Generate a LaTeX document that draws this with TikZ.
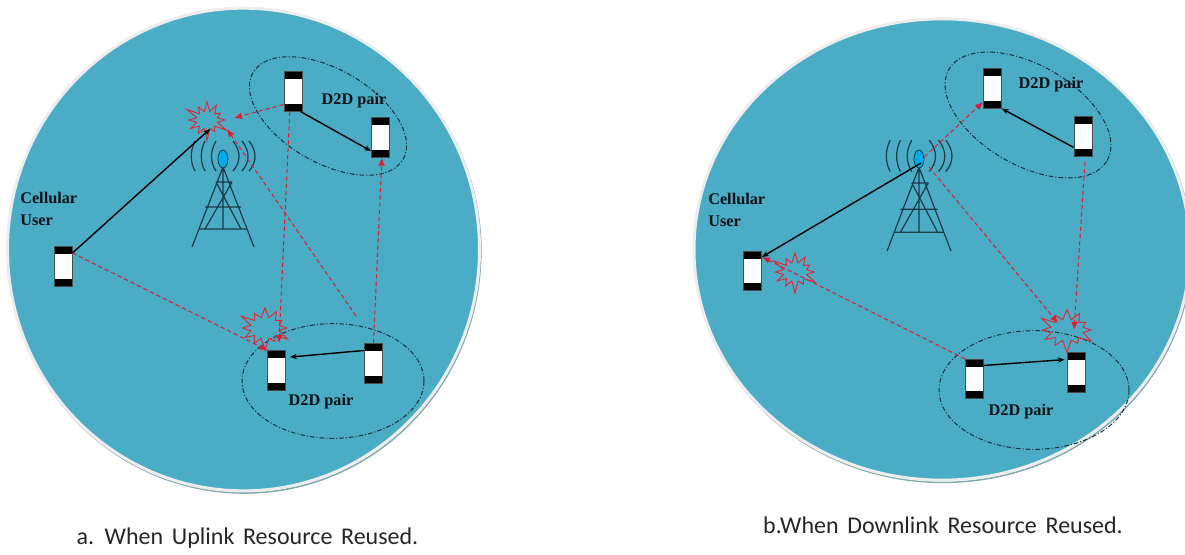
\documentclass[tikz,border=0pt]{standalone}
\usepackage{fontspec}
\setmainfont{Liberation Serif}
\newfontfamily\capfont[WordSpace=1.6]{Carlito}
\usetikzlibrary{shapes.geometric,shapes.symbols,arrows.meta}
\definecolor{cellblue}{RGB}{75,172,198}
\definecolor{burstred}{RGB}{225,40,50}
\definecolor{dashred}{RGB}{225,30,45}
\definecolor{towerink}{RGB}{28,58,72}
\definecolor{zoneink}{RGB}{25,50,65}
\definecolor{antblue}{RGB}{0,170,235}
\tikzset{
  cellarea/.style={ellipse,fill=cellblue,draw=black!7,line width=2.25pt,inner sep=0pt},
  cellshadow/.style={ellipse,draw=black!35!cellblue!60!white,line width=1.2pt,inner sep=0pt},
  phone/.style={rectangle,draw=black!70,line width=.7pt,fill=white,inner sep=0pt,
    minimum width=13.5pt,minimum height=29.5pt,
    path picture={
      \fill[black] (path picture bounding box.north west) rectangle ([yshift=-5.4pt]path picture bounding box.north east);
      \fill[black] (path picture bounding box.south west) rectangle ([yshift=5.4pt]path picture bounding box.south east);
    }},
  zone/.style={ellipse,draw=zoneink,line width=.75pt,dash pattern=on 3.5pt off 1.5pt on .8pt off 1.5pt,inner sep=0pt},
  burst/.style={starburst,draw=burstred,line width=.7pt,inner sep=0pt,starburst points=12,starburst point height=10pt},
  blackarrow/.style={draw=black,line width=1.05pt,-{Stealth[length=5pt,width=4pt]}},
  redarrow/.style={draw=dashred,line width=.75pt,dash pattern=on 3.2pt off 2.2pt,-{Latex[length=6pt,width=5pt]}},
  label/.style={font=\bfseries\fontsize{12.2pt}{16.5pt}\selectfont,text=black!90!cellblue,inner sep=0pt,align=left},
  caption/.style={font=\capfont\fontsize{18pt}{22pt}\selectfont,inner sep=0pt,text=black!85},
  pics/radiotower/.style={code={
    \draw[towerink,line width=.9pt]
      (-31,88) -- (0,8) -- (31,88)
      (0,8) -- (0,70)
      (-7,23) -- (9,23) (-18,48) -- (18,48) (-24,70) -- (24,70)
      (9,23) -- (-18,70) (-7,23) -- (18,70);
    \node[ellipse,draw=towerink,fill=antblue,line width=.6pt,minimum width=7.5pt,minimum height=13.5pt,inner sep=0pt] (ant) at (0,0) {};
    \draw[towerink,line width=.9pt]
      (-28,-18) .. controls (-33,-8) and (-33,3) .. (-28,12)
      (-18,-18) .. controls (-23,-8) and (-23,3) .. (-18,12)
      (-7,-18) .. controls (-13,-8) and (-13,3) .. (-7,12)
      (10,-18) .. controls (18,-8) and (18,3) .. (10,12)
      (19,-18) .. controls (27,-8) and (27,3) .. (19,12)
      (26,-18) .. controls (34,-8) and (34,3) .. (26,12);
  }},
}
\begin{document}
\begin{tikzpicture}[x=.75pt,y=-.75pt]
\useasboundingbox (0,0) rectangle (1185,554);
% left panel
\node[cellshadow,minimum width=354.5pt,minimum height=363pt] (ashadow) at (244.5,251) {};
\node[cellarea,minimum width=354pt,minimum height=362pt] (acell) at (243.5,249.5) {};
\pic (at) at (223,159) {radiotower};
\node[zone,minimum width=130pt,minimum height=70pt,rotate=-30] (azone1) at (328,116) {};
\node[zone,minimum width=136.5pt,minimum height=86pt] (azone2) at (333,381) {};
\node[phone] (a1) at (63,266.5) {};
\node[phone] (a2) at (293,91.5) {};
\node[phone] (a3) at (380.5,137.5) {};
\node[phone] (a4) at (276,370.5) {};
\node[phone] (a5) at (373.5,363.5) {};
\node[burst,minimum width=36pt,minimum height=33pt] (ab1) at (207,120) {};
\node[burst,minimum width=42pt,minimum height=36pt] (ab2) at (265,328) {};
\coordinate (ah1) at (210,129);
\coordinate (ah2) at (234,118);
\coordinate (ah3) at (279,343);
\coordinate (ah4) at (227,129);
\coordinate (as4) at (356,316);
\draw[blackarrow] (a1.55) -- (ah1);
\draw[blackarrow] (a2.-69) -- (a3.235.8);
\draw[blackarrow,shorten >=3.5pt] (a5.126) -- (a4.54);
\draw[redarrow] (a2.234) -- (ah2);
\draw[redarrow] (a2.261) -- (ah3);
\draw[redarrow] (a1.55) -- (a4.112);
\draw[redarrow] (a5.90) -- (a3.274);
\draw[redarrow] (as4) -- (ah4);
\node[label,anchor=north west] (acu) at (20,192) {Cellular\\User};
\node[label] (ad1) at (354,101) {D2D pair};
\node[label] (ad2) at (321,402) {D2D pair};
\node[caption] (acap) at (247.5,538) {a. When Uplink Resource Reused.};
% right panel
\node[cellshadow,minimum width=372.5pt,minimum height=347pt] (bshadow) at (943,251) {};
\node[cellarea,minimum width=372pt,minimum height=346pt] (bcell) at (942,249.5) {};
\pic[yscale=1.045,xscale=1.03] (bt) at (919,159) {radiotower};
\node[zone,minimum width=137pt,minimum height=75pt,rotate=-30] (bzone1) at (1028,115) {};
\node[zone,minimum width=142.5pt,minimum height=89pt] (bzone2) at (1034,390) {};
\node[phone] (b1) at (752.5,271) {};
\node[phone] (b2) at (992.5,88.5) {};
\node[phone] (b3) at (1083,136.5) {};
\node[phone] (b4) at (974,379) {};
\node[phone] (b5) at (1076,372.5) {};
\node[burst,minimum width=38pt,minimum height=34pt] (bb1) at (795,272) {};
\node[burst,minimum width=45pt,minimum height=36pt] (bb2) at (1067,330) {};
\coordinate (bs1) at (921,163);
\coordinate (bs2) at (929,167);
\coordinate (bs3) at (1085,162);
\coordinate (bh2) at (1058,323);
\coordinate (bh3) at (1074,330);
\draw[blackarrow] (bs1) -- (b1.56);
\draw[blackarrow] (b3.229) -- (b2.295);
\draw[blackarrow,shorten >=1.5pt] (b4.55) -- (b5.126);
\draw[redarrow] (btant.20) -- (b2.235);
\draw[redarrow] (bs2) -- (bh2);
\draw[redarrow] (bs3) -- (bh3);
\draw[redarrow] (b4.114) -- (b1.56);
\node[label,anchor=north west] (bcu) at (708,193) {Cellular\\User};
\node[label] (bd1) at (1051,85) {D2D pair};
\node[label] (bd2) at (1021,412) {D2D pair};
\node[caption] (bcap) at (943,525) {b.When Downlink Resource Reused.};
\end{tikzpicture}
\end{document}
